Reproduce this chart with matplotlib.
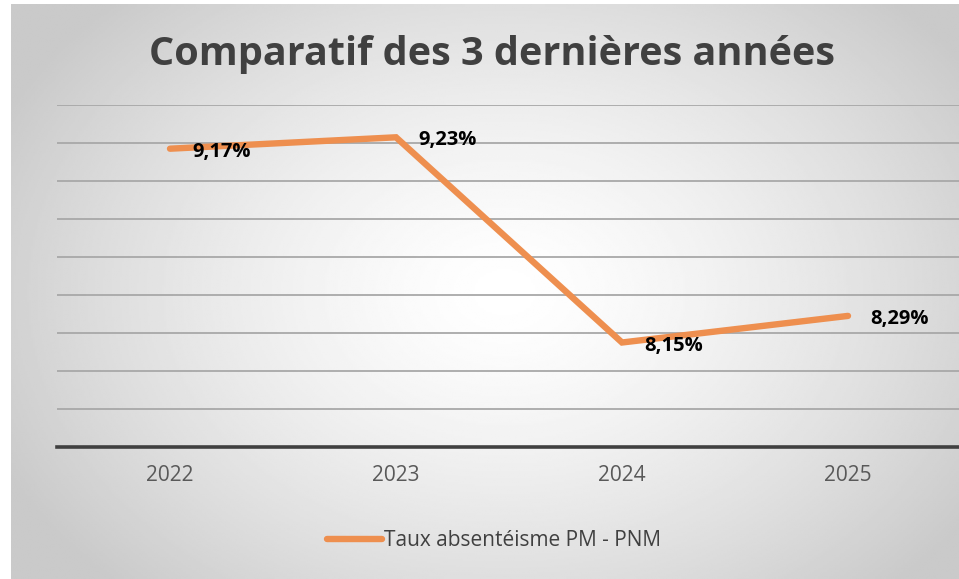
import numpy as np
import matplotlib
matplotlib.use("Agg")
import matplotlib.pyplot as plt

plt.rcParams['font.family'] = ['Open Sans', 'DejaVu Sans']

# donnees du graphique
annees = ['2022', '2023', '2024', '2025']
taux = [9.17, 9.23, 8.15, 8.29]
etiquettes = ['9,17%', '9,23%', '8,15%', '8,29%']
serie = 'Taux absentéisme PM - PNM'
titre = 'Comparatif des 3 dernières années'

W, H = 959, 579
fig = plt.figure(figsize=(W / 100, H / 100), dpi=100)
fig.patch.set_facecolor('white')

# fond en degrade radial (blanc au centre, gris sur les bords)
bg = fig.add_axes([11 / W, 0, (W - 11) / W, (H - 4) / H])
ny, nx = 300, 500
yy, xx = np.mgrid[0:ny, 0:nx]
d = np.sqrt(((xx / nx - 0.52) / 0.62) ** 2 + ((yy / ny - 0.5) / 0.75) ** 2)
val = 1.0 - 0.21 * np.clip(d / 0.95, 0, 1) ** 1.4
bg.imshow(val, cmap='gray', vmin=0, vmax=1, aspect='auto', extent=[0, 1, 0, 1], interpolation='bilinear')
bg.axis('off')

# zone de trace
ax = fig.add_axes([57 / W, (H - 447) / H, (961 - 57) / W, (447 - 105) / H])
ax.patch.set_alpha(0)
x = np.arange(len(annees))
ax.plot(x, taux, color='#EE8F4F', lw=4.6, solid_capstyle='round', solid_joinstyle='miter',
        label=serie, zorder=3)

for xi, v, lab in zip(x, taux, etiquettes):
    ax.annotate(lab, (xi, v), xytext=(22, -3), textcoords='offset pixels',
                ha='left', va='center', fontsize=14.5, fontweight='bold', color='black', zorder=4)

ax.set_xlim(-0.5, len(annees) - 0.5)
ax.set_ylim(7.6, 9.4)
ax.set_yticks(np.arange(7.8, 9.41, 0.2))
ax.yaxis.grid(True, color='#a8a8a8', lw=1.3)
ax.tick_params(axis='y', left=False, labelleft=False)
ax.set_xticks(x)
ax.set_xticklabels(annees, fontsize=15, color='#595959')
ax.tick_params(axis='x', length=0, pad=13)
for s in ['top', 'right', 'left']:
    ax.spines[s].set_visible(False)
ax.spines['bottom'].set_color('#404040')
ax.spines['bottom'].set_linewidth(2.6)

fig.text(492 / W, 1 - 55 / H, titre, ha='center', va='center', fontsize=28.5,
         fontweight='bold', color='#404040')

leg = fig.legend(loc='center', bbox_to_anchor=(494 / W, 1 - 541 / H), frameon=False,
                 fontsize=15, handlelength=2.6, handletextpad=0.1, labelcolor='#404040')

fig.savefig('out.png', dpi=100)
